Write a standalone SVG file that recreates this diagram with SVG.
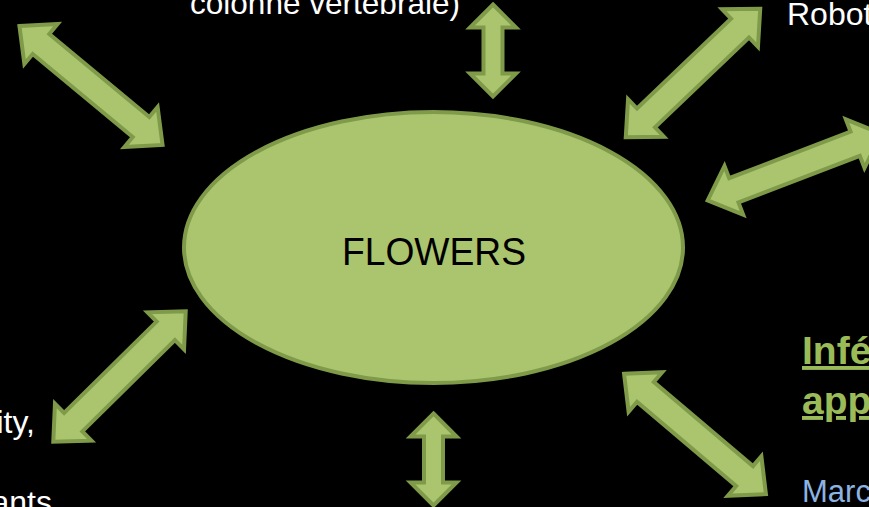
<svg xmlns="http://www.w3.org/2000/svg" width="869" height="507" viewBox="0 0 869 507">
  <style>
    .arr { fill: #ABC56E; stroke: #7F9B49; stroke-width: 4; stroke-linejoin: miter; }
    .node { fill: #ABC56E; stroke: #7F9B49; stroke-width: 4; }
    .txt { font-family: "Liberation Sans", Arial, sans-serif; font-size: 32px; fill: #FFFFFF; }
    .hl { font-family: "Liberation Sans", Arial, sans-serif; font-size: 39px; font-weight: bold; fill: #9BBB59; text-decoration: underline; }
    .blue { font-family: "Liberation Sans", Arial, sans-serif; font-size: 31px; fill: #8DB3E2; }
    .center { font-family: "Liberation Sans", Arial, sans-serif; font-size: 38px; fill: #000000; }
  </style>
  <defs>
    <polygon id="diag" points="-93,0 -65,-26 -65,-13 65,-13 65,-26 93,0 65,26 65,13 -65,13 -65,26"/>
    <polygon id="vert" points="-46,0 -23,-23 -23,-9.5 23,-9.5 23,-23 46,0 23,23 23,9.5 -23,9.5 -23,23"/>
  </defs>
  <rect x="0" y="0" width="869" height="507" fill="#000000"/>

  <g id="connectors">
    <use href="#diag" class="arr" transform="translate(91,85.5) rotate(39.7)"/>
    <use href="#vert" class="arr" transform="translate(493,50.5) rotate(90)"/>
    <use href="#diag" class="arr" transform="translate(693,73) rotate(-43.7)"/>
    <use href="#diag" class="arr" transform="translate(794.5,167) rotate(-21)"/>
    <use href="#diag" class="arr" transform="translate(119.5,376.5) rotate(-44.6)"/>
    <use href="#vert" class="arr" transform="translate(433.5,459.5) rotate(90)"/>
    <use href="#diag" class="arr" transform="translate(695,434) rotate(40.3)"/>
  </g>

  <g id="flowers">
    <ellipse class="node" cx="433.5" cy="247.5" rx="249.5" ry="135.5"/>
    <text class="center" x="434" y="265" text-anchor="middle" textLength="184" lengthAdjust="spacingAndGlyphs">FLOWERS</text>
  </g>

  <g id="top-text">
    <text class="txt" x="325" y="14" text-anchor="middle" textLength="270" lengthAdjust="spacingAndGlyphs">colonne vertébrale)</text>
  </g>
  <g id="robot-text">
    <text class="txt" x="787" y="25">Robot</text>
  </g>
  <g id="left-text">
    <text class="txt" x="35" y="433" text-anchor="end">ity,</text>
    <text class="txt" x="52" y="513" text-anchor="end">ants</text>
  </g>
  <g id="right-text">
    <text class="hl" x="802" y="364">Infé</text>
    <text class="hl" x="802" y="414">app</text>
    <text class="blue" x="802" y="502">Marc</text>
  </g>
</svg>
